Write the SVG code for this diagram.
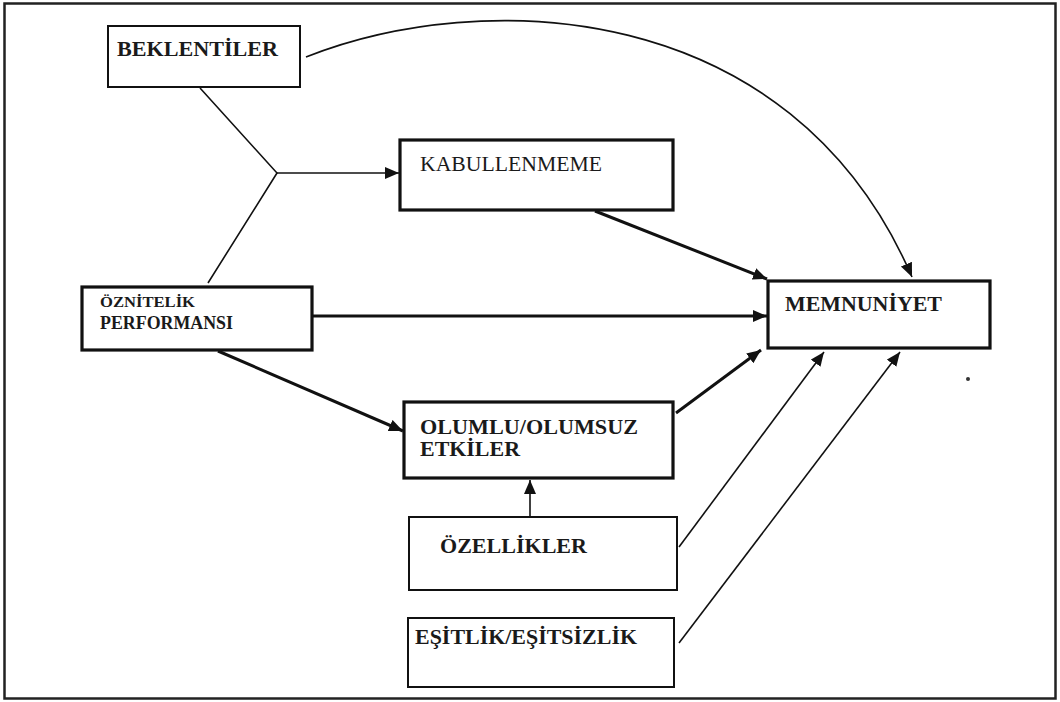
<svg xmlns="http://www.w3.org/2000/svg" width="1060" height="702" viewBox="0 0 1060 702">
  <style>
    .box { fill: #ffffff; stroke: #111111; }
    .thin { stroke-width: 2; }
    .thick { stroke-width: 3.2; }
    .lbl { font-family: "Liberation Serif", "DejaVu Serif", serif; font-weight: bold; fill: #1a1a1a; }
    .reg { font-family: "Liberation Serif", "DejaVu Serif", serif; font-weight: normal; fill: #1a1a1a; }
    .edge { fill: none; stroke: #111111; }
    .e-thin { stroke-width: 1.6; }
    .e-thick { stroke-width: 3; }
  </style>
  <defs>
    <marker id="arrow" markerUnits="userSpaceOnUse" markerWidth="16" markerHeight="14" refX="14" refY="6" orient="auto">
      <path d="M0,0 L14,6 L0,12 Z" fill="#111111"/>
    </marker>
  </defs>

  <rect width="1060" height="702" fill="#ffffff"/>
  <!-- outer frame -->
  <rect x="4.5" y="3.5" width="1051" height="695" fill="none" stroke="#222222" stroke-width="2.5"/>

  <g id="connectors">
    <!-- BEKLENTILER and OZNITELIK join, then feed KABULLENMEME -->
    <path class="edge e-thin" d="M200,88 L277,173 L208,283"/>
    <path class="edge e-thin" d="M277,173 L399,173" marker-end="url(#arrow)"/>
    <!-- arc from BEKLENTILER to MEMNUNIYET -->
    <path class="edge e-thin" d="M306,57 C480,-12 790,-5 912,277" marker-end="url(#arrow)"/>
    <!-- KABULLENMEME to MEMNUNIYET -->
    <path class="edge e-thick" d="M595,211 L767,279" marker-end="url(#arrow)"/>
    <!-- OZNITELIK to MEMNUNIYET -->
    <path class="edge e-thick" d="M313,316 L767,316" marker-end="url(#arrow)"/>
    <!-- OZNITELIK to OLUMLU/OLUMSUZ -->
    <path class="edge e-thick" d="M218,351 L403,431" marker-end="url(#arrow)"/>
    <!-- OLUMLU/OLUMSUZ to MEMNUNIYET -->
    <path class="edge e-thick" d="M676,413 L761,350" marker-end="url(#arrow)"/>
    <!-- OZELLIKLER to OLUMLU/OLUMSUZ -->
    <path class="edge e-thin" d="M530,517 L530,480" marker-end="url(#arrow)"/>
    <!-- OZELLIKLER to MEMNUNIYET -->
    <path class="edge e-thin" d="M679,547 L824,352" marker-end="url(#arrow)"/>
    <!-- ESITLIK to MEMNUNIYET -->
    <path class="edge e-thin" d="M679,643 L900,352" marker-end="url(#arrow)"/>
  </g>

  <g id="beklentiler">
    <rect class="box thin" x="108" y="26" width="192" height="61"/>
    <text class="lbl" x="117" y="56" font-size="20" textLength="161" lengthAdjust="spacingAndGlyphs">BEKLENTİLER</text>
  </g>

  <g id="kabullenmeme">
    <rect class="box thick" x="400" y="140" width="273" height="70"/>
    <text class="reg" x="420" y="171" font-size="20" textLength="182" lengthAdjust="spacingAndGlyphs">KABULLENMEME</text>
  </g>

  <g id="oznitelik">
    <rect class="box thick" x="82" y="287" width="230" height="63"/>
    <text class="lbl" x="100" y="307" font-size="14" textLength="95" lengthAdjust="spacingAndGlyphs">ÖZNİTELİK</text>
    <text class="lbl" x="100" y="329" font-size="18" textLength="133" lengthAdjust="spacingAndGlyphs">PERFORMANSI</text>
  </g>

  <g id="memnuniyet">
    <rect class="box thick" x="768" y="281" width="222" height="67"/>
    <text class="lbl" x="785" y="311" font-size="20" textLength="157" lengthAdjust="spacingAndGlyphs">MEMNUNİYET</text>
  </g>

  <g id="olumlu-olumsuz">
    <rect class="box thick" x="404" y="402" width="269" height="76"/>
    <text class="lbl" x="420" y="434" font-size="20" textLength="218" lengthAdjust="spacingAndGlyphs">OLUMLU/OLUMSUZ</text>
    <text class="lbl" x="420" y="456" font-size="20" textLength="100" lengthAdjust="spacingAndGlyphs">ETKİLER</text>
  </g>

  <g id="ozellikler">
    <rect class="box thin" x="409" y="517" width="268" height="73"/>
    <text class="lbl" x="440" y="553" font-size="20" textLength="147" lengthAdjust="spacingAndGlyphs">ÖZELLİKLER</text>
  </g>

  <g id="esitlik">
    <rect class="box thin" x="408" y="618" width="266" height="69"/>
    <text class="lbl" x="415" y="644" font-size="20" textLength="222" lengthAdjust="spacingAndGlyphs">EŞİTLİK/EŞİTSİZLİK</text>
  </g>

  <!-- small speck right of MEMNUNIYET -->
  <circle cx="968" cy="379" r="2" fill="#333333"/>
</svg>
